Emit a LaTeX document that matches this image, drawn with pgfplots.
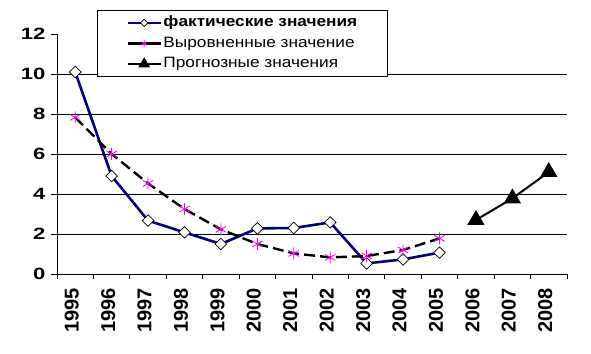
\documentclass[border=0pt]{standalone}
\usepackage{fontspec}
\setmainfont{Liberation Sans}
\newfontfamily\ytickfont[FakeStretch=1.35]{Liberation Sans}
\newfontfamily\legfont[FakeStretch=1.15]{Liberation Sans}
\usepackage{pgfplots}
\pgfplotsset{compat=1.18}
\definecolor{navyline}{RGB}{0,0,128}
\definecolor{magstar}{RGB}{255,0,255}
\begin{document}
\begin{tikzpicture}
\useasboundingbox (0,0) rectangle (591pt,353pt);
\begin{axis}[
  at={(57pt,79pt)}, anchor=south west,
  scale only axis, width=510pt, height=240pt,
  xmin=-0.5, xmax=13.5, ymin=0, ymax=12,
  axis x line=bottom, axis y line=left,
  axis line style={-, line width=0.8pt},
  xtick={0,...,13},
  xticklabels={1995,1996,1997,1998,1999,2000,2001,2002,2003,2004,2005,2006,2007,2008},
  minor xtick={-0.5,0.5,...,13.5},
  major x tick style={draw=none},
  minor tick length=5pt,
  tick align=outside,
  xticklabel style={xshift=-3.5pt, yshift=-8pt, rotate=90, anchor=east, inner sep=0pt, font=\bfseries\fontsize{20}{20}\selectfont},
  ytick={0,2,...,12},
  major tick length=6pt,
  yticklabel style={font=\ytickfont\bfseries\fontsize{16.3}{16.3}\selectfont, xshift=-2pt},
  extra y ticks={2,4,...,10},
  extra y tick labels={},
  extra y tick style={ymajorgrids=true, major tick length=0pt},
  grid style={black, line width=0.8pt},
  tick style={black, line width=0.8pt},
  /pgf/number format/assume math mode=true,
  clip=false,
  legend image code/.code={\draw[mark repeat=2,mark phase=2,#1] plot coordinates {(0pt,0pt)(16.5pt,0pt)(33pt,0pt)};},
  legend cell align=left,
  legend style={at={(0.0784,1.1)}, anchor=north west, draw=black, line width=0.8pt,
    inner xsep=29pt, inner ysep=2.5pt, row sep=0.5pt,
    font=\legfont\fontsize{15}{17}\selectfont,
    nodes={inner xsep=1.5pt, inner ysep=3pt, text height=11pt, text depth=3pt}},
]
\addplot[navyline, line width=2.6pt, mark=square*, mark size=4.1pt,
  mark options={rotate=45, fill=white, draw=black, line width=0.7pt, solid},
  legend image post style={line width=2.6pt, mark size=2.6pt}]
  coordinates {(0,10.1)(1,4.9)(2,2.67)(3,2.08)(4,1.5)(5,2.28)(6,2.3)(7,2.58)(8,0.53)(9,0.73)(10,1.07)};
\addlegendentry{\textbf{фактические значения}}
\addplot[black, line width=2.4pt, dash pattern=on 11pt off 5pt, mark=asterisk, mark size=6pt,
  mark options={magstar, line width=0.8pt, solid},
  legend image post style={solid, line width=2.6pt, mark size=3.3pt}]
  coordinates {(0,7.83)(1,6.0)(2,4.53)(3,3.25)(4,2.23)(5,1.5)(6,1.03)(7,0.83)(8,0.9)(9,1.2)(10,1.78)};
\addlegendentry{Выровненные значение}
\addplot[black, line width=2pt, mark=triangle*, mark size=8pt,
  mark options={black, solid},
  legend image post style={line width=2.6pt, mark size=4.2pt}]
  coordinates {(11,2.7)(12,3.78)(13,5.1)};
\addlegendentry{Прогнозные значения}
\end{axis}
\end{tikzpicture}
\end{document}
